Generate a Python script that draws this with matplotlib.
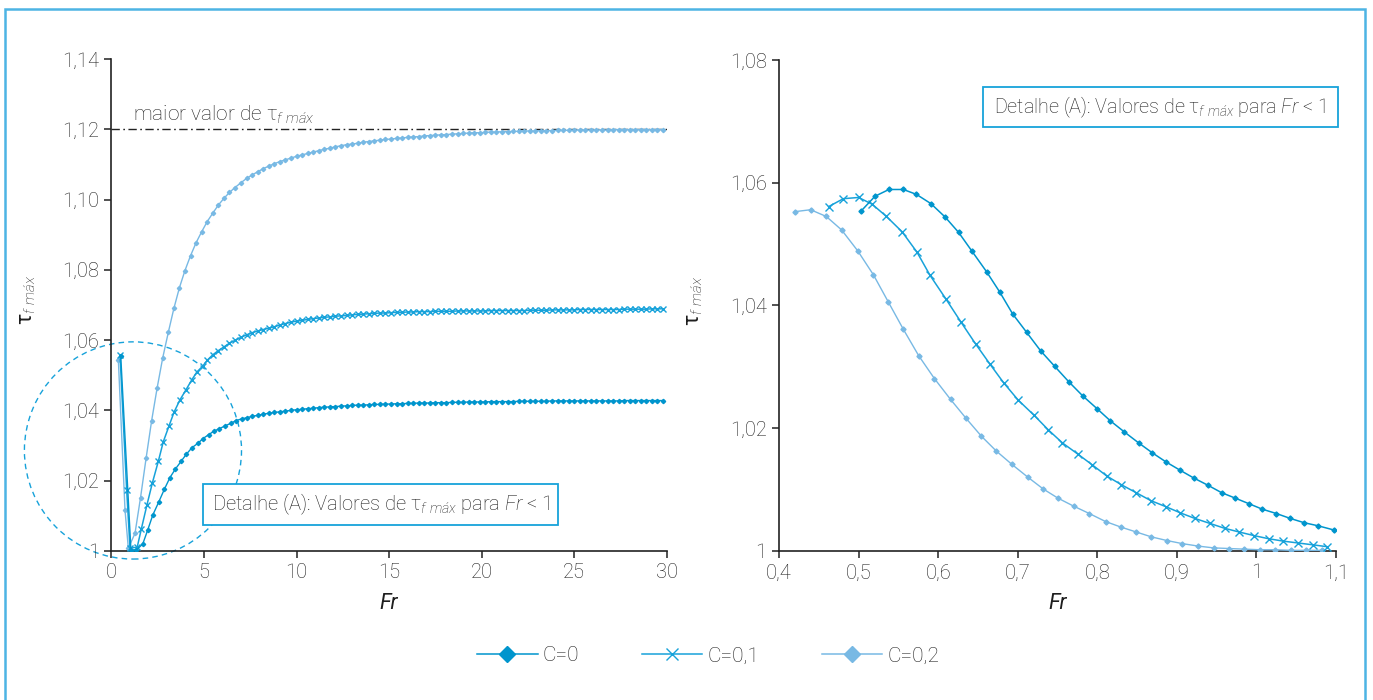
import matplotlib.pyplot as plt
from matplotlib.lines import Line2D
from matplotlib.patches import Ellipse, Rectangle

plt.rcParams['font.family'] = ['Roboto', 'DejaVu Sans']
plt.rcParams['font.weight'] = 'light'
plt.rcParams['mathtext.fontset'] = 'custom'
plt.rcParams['mathtext.rm'] = 'Roboto:light'
plt.rcParams['mathtext.it'] = 'Roboto:italic:light'
plt.rcParams['mathtext.default'] = 'regular'

# ---- dados: painel da esquerda (Fr de 0 a 30) ----
l_fr0_head = [0.5, 1.05, 1.35, 1.69, 1.96, 2.23, 2.55, 2.86, 3.16, 3.45, 3.76, 4.04, 4.35, 4.66,
              4.95, 5.25, 5.54, 5.83, 6.14, 6.44, 6.73, 7.04]
l_c0_head = [1.0555, 1.0003, 1.0003, 1.0020, 1.0060, 1.0102, 1.0139, 1.0176, 1.0209, 1.0233, 1.0255,
             1.0275, 1.0294, 1.0306, 1.0320, 1.0331, 1.0341, 1.0348, 1.0356, 1.0363, 1.0371, 1.0376]

l_fr1_head = [0.46, 0.82, 1.0, 1.39, 1.61, 1.92, 2.21, 2.53, 2.8, 3.11, 3.38, 3.7, 4.03, 4.34, 4.61,
              4.93, 5.18, 5.47, 5.77, 6.06, 6.37, 6.7, 7.0]
l_c1_head = [1.0558, 1.0174, 1.0008, 1.0011, 1.0062, 1.0132, 1.0194, 1.0255, 1.0311, 1.0356, 1.0395,
             1.0430, 1.0459, 1.0487, 1.0509, 1.0526, 1.0543, 1.0558, 1.0570, 1.0580, 1.0591, 1.0600,
             1.0608]

l_fr2_head = [0.37, 0.73, 0.91, 1.27, 1.57, 1.87, 2.17, 2.47, 2.77, 3.07, 3.37, 3.67, 3.97, 4.27,
              4.57, 4.87, 5.17, 5.47, 5.77, 6.07, 6.37, 6.67, 7.0]
l_c2_head = [1.0544, 1.0117, 1.0008, 1.0050, 1.0152, 1.0264, 1.0371, 1.0465, 1.0550, 1.0622, 1.0690,
             1.0749, 1.0798, 1.0840, 1.0877, 1.0908, 1.0937, 1.0961, 1.0984, 1.1003, 1.1020, 1.1034,
             1.1048]

fr_tail = [7.3, 7.6, 7.9, 8.2, 8.5, 8.8, 9.1, 9.4, 9.7, 10.0,
           10.3, 10.6, 10.9, 11.2, 11.5, 11.8, 12.1, 12.4, 12.7, 13.0,
           13.3, 13.6, 13.9, 14.2, 14.5, 14.8, 15.1, 15.4, 15.7, 16.0,
           16.3, 16.6, 16.9, 17.2, 17.5, 17.8, 18.1, 18.4, 18.7, 19.0,
           19.3, 19.6, 19.9, 20.2, 20.5, 20.8, 21.1, 21.4, 21.7, 22.0,
           22.3, 22.6, 22.9, 23.2, 23.5, 23.8, 24.1, 24.4, 24.7, 25.0,
           25.3, 25.6, 25.9, 26.2, 26.5, 26.8,
           27.1, 27.4, 27.7, 28.0, 28.3, 28.6, 28.9, 29.2, 29.5, 29.8]

l_c0_tail = [1.0379, 1.0383, 1.0386, 1.0389, 1.0392, 1.0394, 1.0396, 1.0398, 1.0400, 1.0402,
             1.0403, 1.0405, 1.0406, 1.0408, 1.0409, 1.0410, 1.0411, 1.0412, 1.0413, 1.0414,
             1.0415, 1.0415, 1.0416, 1.0417, 1.0417, 1.0418, 1.0418, 1.0419, 1.0419, 1.0420,
             1.0420, 1.0421, 1.0421, 1.0421, 1.0422, 1.0422, 1.0422, 1.0423, 1.0423, 1.0423,
             1.0424, 1.0424, 1.0424, 1.0424, 1.0425, 1.0425, 1.0425, 1.0425, 1.0425, 1.0426,
             1.0426, 1.0426, 1.0426, 1.0426, 1.0426, 1.0427, 1.0427, 1.0427, 1.0427, 1.0427,
             1.0427, 1.0427, 1.0427, 1.0427, 1.0427, 1.0427,
             1.0427, 1.0427, 1.0428, 1.0428, 1.0428, 1.0428, 1.0428, 1.0428, 1.0428, 1.0428]

l_c1_tail = [1.0615, 1.0621, 1.0626, 1.0630, 1.0634, 1.0638, 1.0643, 1.0647, 1.0651, 1.0654,
             1.0656, 1.0659, 1.0661, 1.0663, 1.0665, 1.0666, 1.0668, 1.0669, 1.0670, 1.0672,
             1.0673, 1.0674, 1.0675, 1.0676, 1.0677, 1.0677, 1.0678, 1.0679, 1.0679, 1.0680,
             1.0680, 1.0681, 1.0681, 1.0681, 1.0682, 1.0682, 1.0682, 1.0682, 1.0683, 1.0683,
             1.0683, 1.0683, 1.0683, 1.0683, 1.0684, 1.0684, 1.0684, 1.0684, 1.0684, 1.0684,
             1.0684, 1.0685, 1.0685, 1.0685, 1.0685, 1.0686, 1.0686, 1.0686, 1.0686, 1.0686,
             1.0687, 1.0687, 1.0687, 1.0687, 1.0687, 1.0687,
             1.0687, 1.0687, 1.0688, 1.0688, 1.0688, 1.0688, 1.0688, 1.0689, 1.0689, 1.0689]

l_c2_tail = [1.1060, 1.1070, 1.1079, 1.1088, 1.1095, 1.1102, 1.1108, 1.1113, 1.1118, 1.1123,
             1.1127, 1.1131, 1.1135, 1.1139, 1.1143, 1.1146, 1.1150, 1.1153, 1.1156, 1.1158,
             1.1160, 1.1163, 1.1165, 1.1167, 1.1169, 1.1171, 1.1172, 1.1174, 1.1175, 1.1177,
             1.1178, 1.1179, 1.1181, 1.1182, 1.1183, 1.1184, 1.1185, 1.1186, 1.1187, 1.1188,
             1.1189, 1.1190, 1.1190, 1.1191, 1.1192, 1.1192, 1.1193, 1.1193, 1.1194, 1.1194,
             1.1195, 1.1195, 1.1195, 1.1196, 1.1196, 1.1196, 1.1197, 1.1197, 1.1197, 1.1197,
             1.1198, 1.1198, 1.1198, 1.1198, 1.1198, 1.1198,
             1.1199, 1.1199, 1.1199, 1.1199, 1.1199, 1.1199, 1.1199, 1.1199, 1.1199, 1.1199]

maior_valor = 1.12

# ---- dados: painel da direita, detalhe (A), Fr < 1 ----
r_fr0 = [0.5032, 0.5206, 0.5381, 0.5562, 0.5727, 0.5908, 0.6088, 0.6257, 0.6427, 0.6608, 0.6773,
         0.6937, 0.7113, 0.7288, 0.7463, 0.7639, 0.7814, 0.7995, 0.8164, 0.8339, 0.8520, 0.8690,
         0.8864, 0.9034, 0.9210, 0.9391, 0.9561, 0.9735, 0.9905, 1.0075, 1.0250, 1.0425, 1.0600,
         1.0775, 1.0978]
r_c0 = [1.0554, 1.0578, 1.0589, 1.0589, 1.0581, 1.0566, 1.0544, 1.0519, 1.0488, 1.0455, 1.0422,
        1.0386, 1.0356, 1.0326, 1.0301, 1.0276, 1.0253, 1.0232, 1.0212, 1.0194, 1.0176, 1.0160,
        1.0145, 1.0132, 1.0119, 1.0107, 1.0095, 1.0086, 1.0077, 1.0068, 1.0061, 1.0053, 1.0046,
        1.0041, 1.0034]

r_fr1 = [0.4622, 0.4808, 0.5000, 0.5170, 0.5350, 0.5547, 0.5733, 0.5898, 0.6095, 0.6286, 0.6472,
         0.6653, 0.6823, 0.7004, 0.7206, 0.7386, 0.7562, 0.7753, 0.7939, 0.8120, 0.8301, 0.8487,
         0.8673, 0.8864, 0.9045, 0.9226, 0.9412, 0.9598, 0.9779, 0.9970, 1.0151, 1.0337, 1.0523,
         1.0709, 1.0885]
r_c1 = [1.0561, 1.0574, 1.0576, 1.0565, 1.0545, 1.0520, 1.0487, 1.0449, 1.0411, 1.0373, 1.0337,
        1.0304, 1.0274, 1.0246, 1.0221, 1.0197, 1.0176, 1.0158, 1.0140, 1.0122, 1.0108, 1.0095,
        1.0082, 1.0072, 1.0062, 1.0053, 1.0045, 1.0037, 1.0031, 1.0025, 1.0020, 1.0016, 1.0013,
        1.0010, 1.0007]

r_fr2 = [0.4206, 0.4397, 0.4594, 0.4787, 0.4989, 0.5186, 0.5372, 0.5563, 0.5756, 0.5952, 0.6155,
         0.6351, 0.6543, 0.6729, 0.6927, 0.7129, 0.7320, 0.7506, 0.7703, 0.7899, 0.8103, 0.8294,
         0.8487, 0.8678, 0.8875, 0.9067, 0.9265, 0.9462, 0.9653, 0.9844, 1.0041, 1.0234, 1.0430,
         1.0621, 1.0818]
r_c2 = [1.0553, 1.0556, 1.0545, 1.0523, 1.0489, 1.0450, 1.0406, 1.0361, 1.0318, 1.0281, 1.0247,
        1.0216, 1.0187, 1.0163, 1.0141, 1.0120, 1.0101, 1.0086, 1.0073, 1.0061, 1.0048, 1.0039,
        1.0031, 1.0023, 1.0017, 1.0012, 1.0008, 1.0005, 1.0004, 1.0003, 1.0002, 1.0002, 1.0001,
        1.0001, 1.0001]

series_labels = ['C=0', 'C=0,1', 'C=0,2']

l_xticks = [0, 5, 10, 15, 20, 25, 30]
l_yticks = [1, 1.02, 1.04, 1.06, 1.08, 1.10, 1.12, 1.14]
l_ylabels = ['1', '1,02', '1,04', '1,06', '1,08', '1,10', '1,12', '1,14']
r_xticks = [0.4, 0.5, 0.6, 0.7, 0.8, 0.9, 1.0, 1.1]
r_xlabels = ['0,4', '0,5', '0,6', '0,7', '0,8', '0,9', '1', '1,1']
r_yticks = [1, 1.02, 1.04, 1.06, 1.08]
r_ylabels = ['1', '1,02', '1,04', '1,06', '1,08']

c0 = '#0095cd'
c1 = '#17a2da'
c2 = '#78b9e4'
frame_c = '#4db4e4'
txt_c = '#1e1e1e'

tau = r'$\tau_{\mathit{f\ máx}}$'

fig = plt.figure(figsize=(13.73, 7.0), dpi=100)
axL = fig.add_axes([0.0812, 0.2129, 0.4044, 0.7029])
axR = fig.add_axes([0.5674, 0.2129, 0.4057, 0.7014])

for ax in (axL, axR):
    for s in ('top', 'right'):
        ax.spines[s].set_visible(False)
    for s in ('left', 'bottom'):
        ax.spines[s].set_linewidth(1.2)
        ax.spines[s].set_color('#222222')
    ax.tick_params(direction='out', length=5, width=1.1, color='#222222',
                   labelsize=14.5, labelcolor=txt_c, pad=4)

# painel esquerdo
axL.plot(l_fr2_head + fr_tail, l_c2_head + l_c2_tail, color=c2, lw=1.0,
         marker='D', ms=2.2, zorder=3)
axL.plot(l_fr1_head + fr_tail, l_c1_head + l_c1_tail, color=c1, lw=1.1,
         marker='x', ms=5, mew=1.0, zorder=4)
axL.plot(l_fr0_head + fr_tail, l_c0_head + l_c0_tail, color=c0, lw=1.0,
         marker='D', ms=2.2, zorder=4)
axL.axhline(maior_valor, color='#222222', lw=1.0, ls=(0, (6, 2.5, 1.2, 2.5)), zorder=2)
axL.text(1.16, 1.1224, 'maior valor de ' + tau, fontsize=15, color=txt_c, va='baseline')

axL.set_xlim(0, 30)
axL.set_ylim(1, 1.14)
axL.set_xticks(l_xticks)
axL.set_yticks(l_yticks)
axL.set_yticklabels(l_ylabels)
axL.set_xlabel('Fr', fontsize=15.5, style='italic', color=txt_c)
axL.xaxis.set_label_coords(0.5, -0.085)
axL.set_ylabel(tau, fontsize=15.5, color=txt_c)
axL.yaxis.set_label_coords(-0.132, 0.51)

circ = Ellipse((1.16, 1.0286), 11.73, 0.0618, fill=False, ec=c1, lw=1.0,
               ls=(0, (4, 3)), clip_on=False, zorder=1)
axL.add_patch(circ)
axL.add_patch(Rectangle((4.95, 1.0074), 19.19, 0.0117, fc='white', ec=c1, lw=1.3, zorder=6))
axL.text(14.55, 1.01325, 'Detalhe (A): Valores de ' + tau + ' para $\\mathit{Fr}$ < 1',
         fontsize=14.5, ha='center', va='center', color=txt_c, zorder=7)

# painel direito
axR.plot(r_fr2, r_c2, color=c2, lw=1.0, marker='D', ms=2.6, zorder=3)
axR.plot(r_fr1, r_c1, color=c1, lw=1.1, marker='x', ms=6, mew=1.0, zorder=4)
axR.plot(r_fr0, r_c0, color=c0, lw=1.1, marker='D', ms=2.6, zorder=4)
axR.set_xlim(0.4, 1.1)
axR.set_ylim(1, 1.08)
axR.set_xticks(r_xticks)
axR.set_xticklabels(r_xlabels)
axR.set_yticks(r_yticks)
axR.set_yticklabels(r_ylabels)
axR.set_xlabel('Fr', fontsize=15.5, style='italic', color=txt_c)
axR.xaxis.set_label_coords(0.5, -0.085)
axR.set_ylabel(tau, fontsize=15.5, color=txt_c)
axR.yaxis.set_label_coords(-0.133, 0.51)
axR.add_patch(Rectangle((0.6564, 1.0691), 0.4461, 0.0065, fc='white', ec=c1, lw=1.3,
                        zorder=6, clip_on=False))
axR.text(0.8790, 1.07235, 'Detalhe (A): Valores de ' + tau + ' para $\\mathit{Fr}$ < 1',
         fontsize=14.2, ha='center', va='center', color=txt_c, zorder=7)

# legenda
handles = [Line2D([], [], color=c0, lw=1.1, marker='D', ms=8),
           Line2D([], [], color=c1, lw=1.1, marker='x', ms=8, mew=1.0),
           Line2D([], [], color=c2, lw=1.1, marker='D', ms=8)]
fig.legend(handles, series_labels, loc='center', bbox_to_anchor=(0.516, 0.063), ncol=3,
           frameon=False, fontsize=15, handlelength=2.9, columnspacing=3.0,
           handletextpad=0.25, labelcolor=txt_c)

# moldura azul
fig.add_artist(Rectangle((5 / 1373, -0.05), 1360 / 1373, 1.05 - 9 / 700, fill=False,
                         ec=frame_c, lw=1.8, transform=fig.transFigure, clip_on=False))

fig.savefig('out.png', dpi=100)
